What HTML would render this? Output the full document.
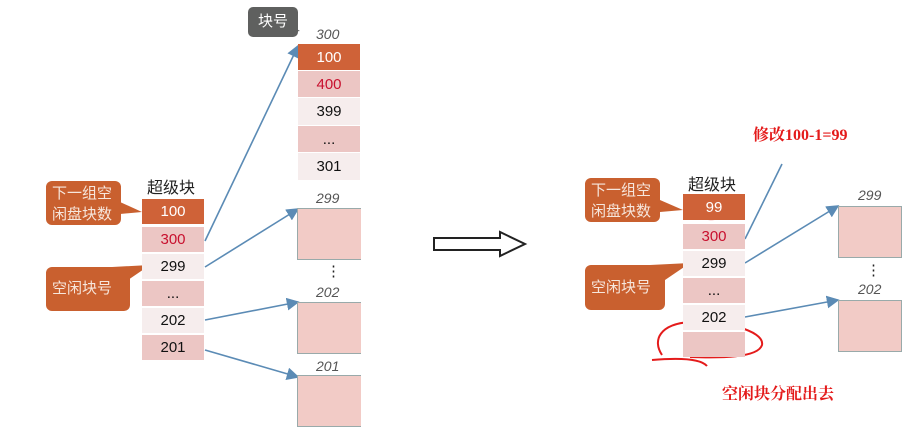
<!DOCTYPE html>
<html><head><meta charset="utf-8"><style>
body{margin:0;width:917px;height:435px;background:#fff;position:relative;overflow:hidden;font-family:"Liberation Sans","Noto Sans CJK SC",sans-serif}
.a{position:absolute;box-sizing:border-box}
.r{position:absolute;box-sizing:border-box;text-align:center;font-size:15px;color:#111;display:flex;align-items:center;justify-content:center}
.o{background:#cf6238;color:#fff}.p{background:#ecc6c4}.l{background:#f6eded}
.it{position:absolute;font-style:italic;font-size:14px;color:#555}
.bx{position:absolute;background:#f2cbc6;border:1px solid #9aa}
.nb{border-right:none}
.cal{position:absolute;background:#c9602f;color:#f6e6dc;border-radius:6px;font-size:15px;line-height:21px;padding:2px 6px;box-sizing:border-box}
.t{position:absolute;font-size:15px;color:#222}
</style></head><body>
<svg class="a" style="left:0;top:0" width="917" height="435">
<defs><marker id="m" markerWidth="8" markerHeight="8" refX="7" refY="4" orient="auto"><path d="M0,0L8,4L0,8z" fill="#5b8bb5"/></marker></defs>
<g stroke="#5b8bb5" stroke-width="1.6" fill="none">
<line x1="205" y1="241" x2="298" y2="46" marker-end="url(#m)"/>
<line x1="205" y1="267" x2="298" y2="209" marker-end="url(#m)"/>
<line x1="205" y1="320" x2="298" y2="302" marker-end="url(#m)"/>
<line x1="205" y1="350" x2="298" y2="377" marker-end="url(#m)"/>
<line x1="745" y1="239" x2="782" y2="164"/>
<line x1="745" y1="263" x2="838" y2="206" marker-end="url(#m)"/>
<line x1="745" y1="317" x2="838" y2="300" marker-end="url(#m)"/>
</g>
<polygon points="120,202 142,212 120,214" fill="#c9602f"/>
<polygon points="112,267 150,265 128,280" fill="#c9602f"/>
<polygon points="660,200 683,210 660,212" fill="#c9602f"/>
<polygon points="650,265 690,263 665,280" fill="#c9602f"/>
<polygon points="285,22 300,31 285,33" fill="#5f605f"/>
<polygon points="434,238 500,238 500,232 525,244 500,256 500,250 434,250" fill="#fff" stroke="#222" stroke-width="2"/>
<g stroke="#e41b1b" stroke-width="2" fill="none">
<path d="M703,203 C715,198 735,197 739,205 C741,214 725,220 708,219 C697,217 697,207 705,204"/>
<path d="M662,355 C652,340 660,324 690,322 C720,320 765,330 762,345 C758,358 720,358 690,357 M652,360 C675,358 700,358 707,366"/>
</g>
</svg>
<div class="a" style="left:248px;top:7px;width:50px;height:30px;background:#5f605f;border-radius:5px;color:#fff;font-size:15px;line-height:30px;text-align:center">块号</div>
<div class="it" style="left:316px;top:26px">300</div>
<div class="r o" style="left:298px;top:44px;width:62px;height:26px">100</div>
<div class="r p" style="left:298px;top:71px;width:62px;height:26px;color:#c8102e">400</div>
<div class="r l" style="left:298px;top:98px;width:62px;height:27px">399</div>
<div class="r p" style="left:298px;top:126px;width:62px;height:26px">...</div>
<div class="r l" style="left:298px;top:153px;width:62px;height:27px">301</div>
<div class="it" style="left:316px;top:190px">299</div>
<div class="bx nb" style="left:297px;top:208px;width:63px;height:50px"></div>
<div class="t" style="left:326px;top:262px">⋮</div>
<div class="it" style="left:316px;top:284px">202</div>
<div class="bx nb" style="left:297px;top:302px;width:63px;height:50px"></div>
<div class="it" style="left:316px;top:358px">201</div>
<div class="bx nb" style="left:297px;top:375px;width:63px;height:50px"></div>
<div class="t" style="left:147px;top:174px;font-size:16px">超级块</div>
<div class="cal" style="left:46px;top:181px;width:75px;height:44px">下一组空<br>闲盘块数</div>
<div class="cal" style="left:46px;top:267px;width:84px;height:44px;line-height:40px">空闲块号</div>
<div class="r o" style="left:142px;top:199px;width:62px;height:25px">100</div>
<div class="r p" style="left:142px;top:227px;width:62px;height:25px;color:#c8102e">300</div>
<div class="r l" style="left:142px;top:254px;width:62px;height:25px">299</div>
<div class="r p" style="left:142px;top:281px;width:62px;height:25px">...</div>
<div class="r l" style="left:142px;top:308px;width:62px;height:25px">202</div>
<div class="r p" style="left:142px;top:335px;width:62px;height:25px">201</div>
<div class="a" style="left:753px;top:122px;color:#e41b1b;font-weight:bold;font-size:16px;font-family:'Liberation Serif','Noto Serif CJK SC',serif">修改100-1=99</div>
<div class="t" style="left:688px;top:171px;font-size:16px">超级块</div>
<div class="cal" style="left:585px;top:178px;width:75px;height:44px">下一组空<br>闲盘块数</div>
<div class="cal" style="left:585px;top:265px;width:80px;height:45px;line-height:41px">空闲块号</div>
<div class="r o" style="left:683px;top:194px;width:62px;height:26px">99</div>
<div class="r p" style="left:683px;top:224px;width:62px;height:25px;color:#c8102e">300</div>
<div class="r l" style="left:683px;top:251px;width:62px;height:25px">299</div>
<div class="r p" style="left:683px;top:278px;width:62px;height:25px">...</div>
<div class="r l" style="left:683px;top:305px;width:62px;height:25px">202</div>
<div class="r p" style="left:683px;top:332px;width:62px;height:25px"></div>
<div class="it" style="left:858px;top:187px">299</div>
<div class="bx" style="left:838px;top:206px;width:62px;height:50px"></div>
<div class="t" style="left:866px;top:261px">⋮</div>
<div class="it" style="left:858px;top:281px">202</div>
<div class="bx" style="left:838px;top:300px;width:62px;height:50px"></div>
<div class="a" style="left:722px;top:381px;color:#e41b1b;font-weight:bold;font-size:16px;font-family:'Liberation Serif','Noto Serif CJK SC',serif">空闲块分配出去</div>
</body></html>
